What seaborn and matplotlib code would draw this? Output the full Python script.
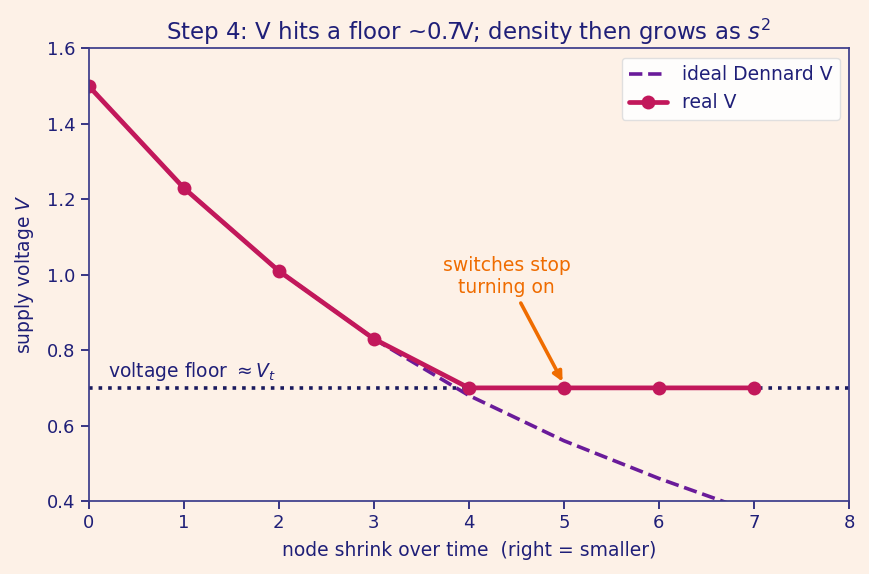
import numpy as np
import pandas as pd
import seaborn as sns
import matplotlib.pyplot as plt

# values
node = [0, 1, 2, 3, 4, 5, 6, 7]
ideal_v = [1.50, 1.23, 1.01, 0.83, 0.68, 0.56, 0.46, 0.37]
real_v = [1.50, 1.23, 1.01, 0.83, 0.70, 0.70, 0.70, 0.70]
v_floor = 0.70

bg = "#fdf1e7"
ink = "#1f1f78"

sns.set_theme(style="ticks")
plt.rcParams.update({
    "font.family": ["DejaVu Sans"],
    "figure.facecolor": bg,
    "axes.facecolor": bg,
    "axes.edgecolor": "#3b3b8a",
    "axes.labelcolor": ink,
    "xtick.color": ink,
    "ytick.color": ink,
    "text.color": ink,
})

df = pd.DataFrame({"node": node, "ideal": ideal_v, "real": real_v})

fig, ax = plt.subplots(figsize=(8.69, 5.74), dpi=100)

sns.lineplot(data=df, x="node", y="ideal", ax=ax, color="#6a1b9a",
             linewidth=2.6, linestyle="--", label="ideal Dennard V")
sns.lineplot(data=df, x="node", y="real", ax=ax, color="#c2185b",
             linewidth=3.4, marker="o", markersize=10, markeredgewidth=0,
             label="real V")
ax.axhline(v_floor, color="#1a1a5e", linestyle=":", linewidth=2.6, zorder=1)

ax.text(0.2, v_floor + 0.012, r"voltage floor $\approx V_t$", fontsize=13.5,
        color=ink, ha="left", va="bottom")
ax.annotate("switches stop\nturning on", xy=(5, v_floor + 0.01), xytext=(4.4, 0.94),
            ha="center", va="bottom", fontsize=13.5, color="#ef6c00",
            arrowprops=dict(arrowstyle="-|>", color="#ef6c00", lw=2.6,
                            mutation_scale=14))

ax.set_xlim(0, 8)
ax.set_ylim(0.4, 1.6)
ax.set_xticks(range(0, 9))
ax.set_yticks(np.arange(0.4, 1.61, 0.2))
ax.tick_params(labelsize=13)
ax.set_xlabel("node shrink over time  (right = smaller)", fontsize=13.5, labelpad=6)
ax.set_ylabel(r"supply voltage $V$", fontsize=13.5, labelpad=8)
ax.set_title(r"Step 4: V hits a floor ~0.7V; density then grows as $s^2$",
             fontsize=16.5, color=ink)

leg = ax.legend(loc="upper right", fontsize=13.5, frameon=True)
leg.get_frame().set_facecolor("white")
leg.get_frame().set_alpha(0.9)
leg.get_frame().set_edgecolor("#dddddd")
for t in leg.get_texts():
    t.set_color(ink)

fig.subplots_adjust(left=0.102, right=0.977, top=0.916, bottom=0.127)
fig.savefig("out.png", dpi=100, facecolor=bg)
